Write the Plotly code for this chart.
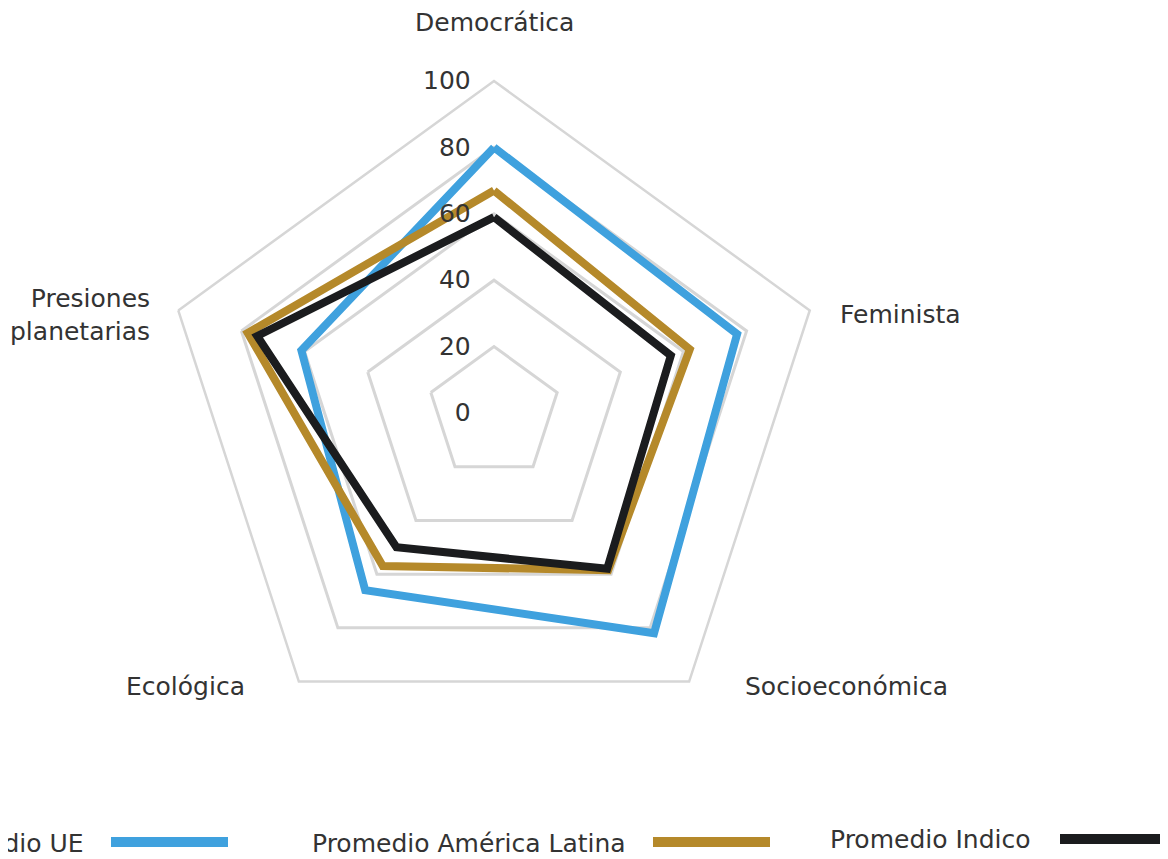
import plotly.graph_objects as go

W, H = 1168, 859
OFF = 8  # page body margin offset

categories = ["Democrática", "Feminista", "Socioeconómica", "Ecológica", "Presiones<br>planetarias"]
series_names = ["Promedio UE", "Promedio América Latina", "Promedio Indico"]
ue_values = [80, 77, 82, 66, 61]
latam_values = [67, 62, 58.5, 57, 78]
indico_values = [59, 56, 58, 50, 75]
radial_tickvals = [0, 20, 40, 60, 80, 100]
radial_ticktext = ["0", "20", "40", "60", "80", "100"]

colors = ["#3fa1de", "#b5892a", "#1b1c1e"]
FONT = "DejaVu Sans"
TXT = "#333333"
GRID = "#d6d6d6"

fig = go.Figure()
for name, vals, col in zip(series_names, [ue_values, latam_values, indico_values], colors):
    fig.add_trace(go.Scatterpolar(
        r=vals + vals[:1],
        theta=categories + categories[:1],
        mode="lines",
        line=dict(color=col, width=8),
        name=name,
        showlegend=False,
        hoverinfo="skip",
    ))

def px(x, y):
    return (x - OFF) / W, 1 - (y - OFF) / H

# polar placement: centre (494, 413), radius 332 px (screen pixels)
cx, cy, R = 494, 413, 332
x0, y1 = px(cx - R, cy - R)
x1, y0 = px(cx + R, cy + R)

fig.update_layout(
    width=W, height=H,
    margin=dict(l=0, r=0, t=0, b=0),
    paper_bgcolor="white",
    font=dict(family=FONT, color=TXT, size=25),
    polar=dict(
        domain=dict(x=[x0, x1], y=[y0, y1]),
        bgcolor="white",
        gridshape="linear",
        radialaxis=dict(
            range=[0, 100],
            tickvals=radial_tickvals,
            ticktext=radial_ticktext,
            showline=False,
            showgrid=True,
            gridcolor=GRID,
            gridwidth=2.5,
            angle=90,
            side="counterclockwise",
            tickangle=90,
            ticks="outside",
            ticklen=14,
            tickcolor="rgba(0,0,0,0)",
            tickfont=dict(family=FONT, size=25, color=TXT),
        ),
        angularaxis=dict(
            categoryarray=categories,
            categoryorder="array",
            rotation=90,
            direction="clockwise",
            showgrid=False,
            showticklabels=False,
            ticks="",
            showline=True,
            linecolor=GRID,
            linewidth=2.5,
        ),
    ),
)

# category labels
label_pos = [
    (495, 22, "center", "middle"),
    (838, 314, "left", "middle"),
    (743, 686, "left", "middle"),
    (247, 686, "right", "middle"),
    (152, 315, "right", "middle"),
]
for text, (x, y, xa, ya) in zip(categories, label_pos):
    ax_, ay_ = px(x, y)
    fig.add_annotation(x=ax_, y=ay_, xref="paper", yref="paper", text=text,
                       showarrow=False, xanchor=xa, yanchor=ya, align=xa,
                       font=dict(family=FONT, size=25, color=TXT))

# legend (text followed by line swatch)
legend_items = [
    (86, 843, 111, 228, 842),
    (628, 843, 653, 770, 842),
    (1033, 839, 1060, 1200, 839),
]
for name, col, (tx, ty, lx0, lx1, ly) in zip(series_names, colors, legend_items):
    ax_, ay_ = px(tx, ty)
    fig.add_annotation(x=ax_, y=ay_, xref="paper", yref="paper", text=name,
                       showarrow=False, xanchor="right", yanchor="middle",
                       font=dict(family=FONT, size=25, color=TXT))
    sx0, sy = px(lx0, ly)
    sx1, _ = px(lx1, ly)
    fig.add_shape(type="line", xref="paper", yref="paper", x0=sx0, x1=sx1, y0=sy, y1=sy,
                  line=dict(color=col, width=10))

fig.write_html("out.html")
